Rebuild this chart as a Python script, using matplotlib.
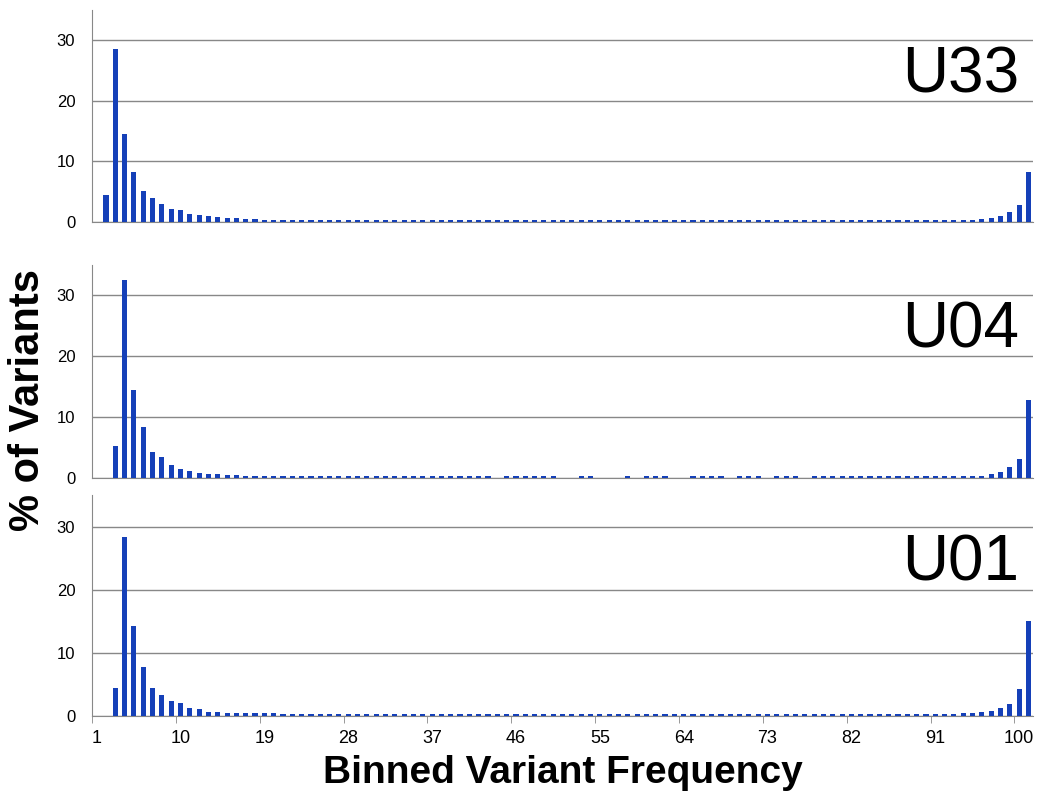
import matplotlib
matplotlib.use("Agg")
import matplotlib.pyplot as plt
import numpy as np

plt.rcParams['font.family'] = ['Liberation Sans', 'DejaVu Sans']

bins = list(range(1, 102))
labels = ["U33", "U04", "U01"]

def mk(head_start, head, tail, mid, gaps=()):
    v = [0.0] * 101
    for i, h in enumerate(head):
        v[head_start - 1 + i] = h
    n_tail = len(tail)
    for i in range(head_start - 1 + len(head), 101 - n_tail):
        v[i] = mid
    for i, t in enumerate(tail):
        v[101 - n_tail + i] = t
    for g in gaps:
        v[g - 1] = 0.0
    return v

u33 = mk(2, [4.4, 28.5, 14.5, 8.2, 5.2, 3.9, 2.9, 2.2, 2.0, 1.4, 1.1, 1.0, 0.8, 0.7, 0.6, 0.5, 0.45, 0.4, 0.35, 0.3],
         [0.3, 0.35, 0.4, 0.5, 0.7, 1.0, 1.7, 2.8, 8.3], 0.25)
u04 = mk(3, [5.3, 32.5, 14.5, 8.4, 4.3, 3.4, 2.2, 1.5, 1.1, 0.8, 0.7, 0.6, 0.5, 0.45, 0.4, 0.35, 0.3],
         [0.3, 0.35, 0.4, 0.6, 1.0, 1.8, 3.1, 12.8], 0.25,
         gaps=(44, 51, 52, 55, 56, 57, 59, 63, 64, 69, 73, 77))
u01 = mk(3, [4.4, 28.3, 14.2, 7.7, 4.5, 3.3, 2.3, 2.0, 1.2, 1.1, 0.7, 0.7, 0.5, 0.5, 0.4, 0.5, 0.4, 0.4, 0.35, 0.3],
         [0.3, 0.35, 0.4, 0.5, 0.6, 0.8, 1.2, 1.9, 4.3, 15.0], 0.25)
series = [u33, u04, u01]

tick_pos = list(range(1, 101, 9))
tick_labels = [str(b) for b in tick_pos]

fig = plt.figure(figsize=(10.51, 8.0), dpi=100)
rects = [(0.0875, 0.7225, 0.8955, 0.265), (0.0875, 0.4025, 0.8955, 0.2665), (0.0875, 0.105, 0.8955, 0.276)]
for k, (vals, lab, r) in enumerate(zip(series, labels, rects)):
    ax = fig.add_axes(r)
    ax.bar(bins, vals, width=0.55, color="#1540b8", zorder=3)
    ax.set_xlim(0.5, 101.5)
    ax.set_ylim(0, 35)
    ax.set_yticks([0, 10, 20, 30])
    ax.yaxis.grid(True, color="#888888", linewidth=1)
    for s in ["top", "right"]:
        ax.spines[s].set_visible(False)
    ax.spines["left"].set_color("#888888")
    ax.spines["bottom"].set_color("#888888")
    ax.tick_params(axis="y", length=0, labelsize=12, pad=12)
    ax.text(0.985, 0.69, lab, transform=ax.transAxes, ha="right", va="center", fontsize=46)
    if k == 2:
        ax.set_xticks(tick_pos)
        ax.set_xticklabels(tick_labels, fontsize=13)
        ax.tick_params(axis="x", length=0, pad=10)
        ax.set_xticks([b + 0.5 for b in range(0, 101, 9)], minor=True)
        ax.tick_params(axis="x", which="minor", length=5, color="#888888")
        ax.set_xlabel("Binned Variant Frequency", fontsize=28, fontweight="bold", labelpad=6)
    else:
        ax.set_xticks([])

fig.text(0.027, 0.5, "% of Variants", rotation=90, ha="center", va="center", fontsize=30, fontweight="bold")
fig.savefig("out.png", dpi=100)
